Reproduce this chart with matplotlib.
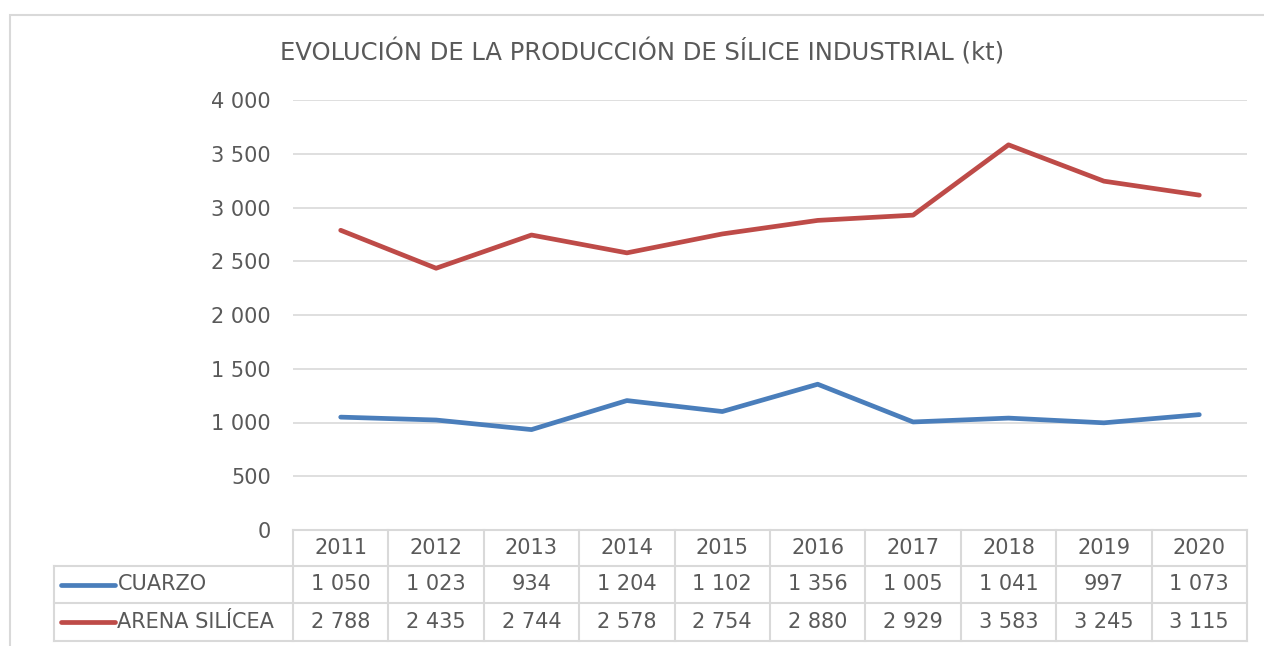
import numpy as np
import matplotlib.pyplot as plt
from matplotlib.transforms import blended_transform_factory
from matplotlib.patches import Rectangle

# data
years = ['2011', '2012', '2013', '2014', '2015', '2016', '2017', '2018', '2019', '2020']
cuarzo = [1050, 1023, 934, 1204, 1102, 1356, 1005, 1041, 997, 1073]
arena = [2788, 2435, 2744, 2578, 2754, 2880, 2929, 3583, 3245, 3115]
series_names = ['CUARZO', 'ARENA SILÍCEA']
colors = ['#4A7EBB', '#BE4B48']

txt = '#595959'
grid = '#D9D9D9'
plt.rcParams['font.family'] = 'DejaVu Sans'

W, H = 1264, 646
fig = plt.figure(figsize=(W / 100, H / 100), dpi=100)

# chart border
fig.patches.append(Rectangle((10 / W, -0.05), 1.2, 1 - 15 / H + 0.05, transform=fig.transFigure,
                             fill=False, edgecolor=grid, lw=1.5))

ax = fig.add_axes([293 / W, (H - 530) / H, (1247 - 293) / W, 430 / H])
x = np.arange(len(years))
ax.plot(x, cuarzo, color=colors[0], lw=3.4, solid_capstyle='round')
ax.plot(x, arena, color=colors[1], lw=3.4, solid_capstyle='round')

ax.set_xlim(-0.5, len(years) - 0.5)
ax.set_ylim(0, 4000)
ax.set_yticks(np.arange(0, 4001, 500))
ax.set_yticklabels([f'{v:,}'.replace(',', ' ') for v in range(0, 4001, 500)])
ax.tick_params(axis='y', length=0, pad=16, labelsize=15, labelcolor=txt)
ax.set_xticks([])
ax.grid(axis='y', color=grid, lw=1.2)
for s in ax.spines.values():
    s.set_visible(False)
ax.set_axisbelow(True)

# data table
tr = blended_transform_factory(ax.transData, ax.transAxes)
rows_y = [0.0, -36 / 430, -73 / 430, -111 / 430]
lk = dict(color=grid, lw=1.5, transform=tr, clip_on=False)
ax.plot([-0.5, 9.5], [rows_y[0]] * 2, **lk)
for yy in rows_y[1:]:
    ax.plot([-3.0, 9.5], [yy] * 2, **lk)
for xx in np.arange(-0.5, 10, 1):
    ax.plot([xx, xx], [rows_y[0], rows_y[3]], **lk)
ax.plot([-3.0, -3.0], [rows_y[1], rows_y[3]], **lk)

fs = 15
for i, yr in enumerate(years):
    ax.text(i, (rows_y[0] + rows_y[1]) / 2, yr, transform=tr, ha='center', va='center',
            fontsize=fs, color=txt, clip_on=False)
for r, vals in enumerate([cuarzo, arena]):
    yc = (rows_y[r + 1] + rows_y[r + 2]) / 2
    for i, v in enumerate(vals):
        ax.text(i, yc, f'{v:,}'.replace(',', ' '), transform=tr, ha='center', va='center',
                fontsize=fs, color=txt, clip_on=False)
    ax.plot([-2.93, -2.37], [yc, yc], color=colors[r], lw=3.4, solid_capstyle='round',
            transform=tr, clip_on=False)
    ax.text(-2.34, yc, series_names[r], transform=tr, ha='left', va='center',
            fontsize=fs, color=txt, clip_on=False)

fig.text(0.508, 1 - 52 / H, 'EVOLUCIÓN DE LA PRODUCCIÓN DE SÍLICE INDUSTRIAL (kt)',
         ha='center', va='center', fontsize=17.5, color=txt)

fig.savefig('out.png', dpi=100)
